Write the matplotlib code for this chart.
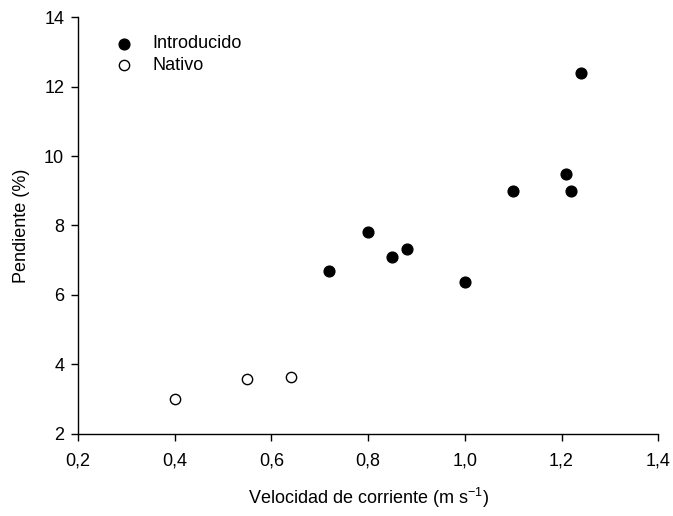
import matplotlib.pyplot as plt

plt.rcParams['font.family'] = ['Liberation Sans', 'DejaVu Sans']
plt.rcParams['mathtext.fontset'] = 'custom'
plt.rcParams['mathtext.rm'] = 'Liberation Sans'

intro_x = [0.72, 0.80, 0.85, 0.88, 1.00, 1.10, 1.21, 1.22, 1.24]
intro_y = [6.70, 7.82, 7.10, 7.33, 6.37, 9.00, 9.48, 9.00, 12.40]
nativo_x = [0.40, 0.55, 0.64]
nativo_y = [3.02, 3.58, 3.65]

xticks = [0.2, 0.4, 0.6, 0.8, 1.0, 1.2, 1.4]
xticklabels = ['0,2', '0,4', '0,6', '0,8', '1,0', '1,2', '1,4']
yticks = [2, 4, 6, 8, 10, 12, 14]

fig = plt.figure(figsize=(6.73, 5.16), dpi=100)
ax = fig.add_axes([0.116, 0.159, 0.862, 0.808])

ax.scatter(intro_x, intro_y, s=60, c='black', edgecolors='black', label='Introducido', zorder=3)
ax.scatter(nativo_x, nativo_y, s=55, facecolors='white', edgecolors='black', linewidths=1, label='Nativo', zorder=3)

ax.set_xlim(0.2, 1.4)
ax.set_ylim(2, 14)
ax.set_xticks(xticks)
ax.set_xticklabels(xticklabels)
ax.set_yticks(yticks)
ax.tick_params(direction='out', length=5, width=1, labelsize=13)
ax.tick_params(axis='x', pad=8)
ax.tick_params(axis='y', pad=5)
for s in ['top', 'right']:
    ax.spines[s].set_visible(False)
for s in ['left', 'bottom']:
    ax.spines[s].set_linewidth(1)

ax.set_xlabel('Velocidad de corriente (m s$^{\\mathregular{-1}}$)', fontsize=13, labelpad=12)
ax.set_ylabel('Pendiente (%)', fontsize=13, labelpad=10)

ax.legend(loc='upper left', bbox_to_anchor=(0.02, 0.995), frameon=False, fontsize=13,
          handletextpad=0.6, labelspacing=0.25, scatterpoints=1)

fig.savefig('out.png', dpi=100)
